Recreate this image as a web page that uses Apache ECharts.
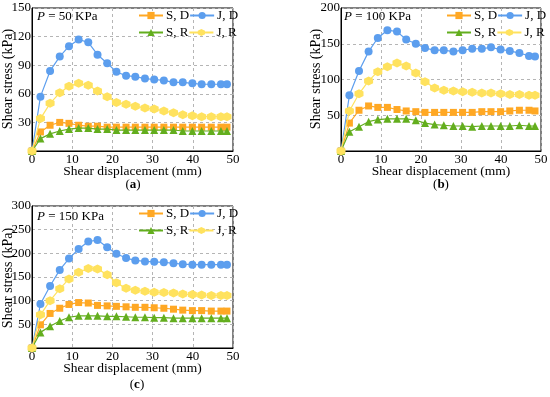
<!DOCTYPE html>
<html><head><meta charset="utf-8">
<script src="https://cdn.jsdelivr.net/npm/echarts@6/dist/echarts.min.js"></script>
<style>html,body{margin:0;padding:0;background:#fff}#c{width:550px;height:397px}</style>
</head><body><div id="c"></div>
<script>
// shear displacement (mm)
var xs = [0, 2.1, 4.5, 6.9, 9.2, 11.6, 14, 16.3, 18.7, 21, 23.4, 25.7, 28.1, 30.4, 32.8, 35.2, 37.5, 39.9, 42.2, 44.6, 47, 48.5];
var seriesNames = ['S, D', 'J, D', 'S, R', 'J, R'];
var panelLabels = ['a', 'b', 'c'];
var pressures = ['50', '100', '150'];
var yMax = [150, 200, 300];
var yStep = [30, 50, 50];
// P = 50 KPa
var a_SD = [0, 20, 27, 30, 29, 27, 26, 26, 25, 25, 25, 25, 25, 25, 25, 25, 25, 25, 25, 25, 25, 25];
var a_JD = [0, 57, 84, 99, 110, 117, 114, 101, 92, 83, 79, 78, 76, 75, 74, 72, 72, 71, 70, 70, 70, 70];
var a_SR = [0, 13, 18, 21, 23, 24, 24, 23, 23, 22, 22, 22, 22, 22, 22, 22, 21, 21, 21, 21, 21, 21];
var a_JR = [0, 34, 50, 61, 68, 71, 69, 63, 57, 51, 49, 47, 45, 44, 42, 40, 38, 37, 36, 36, 36, 36];
// P = 100 KPa
var b_SD = [0, 39, 57, 63, 61, 61, 58, 56, 55, 54, 54, 54, 54, 54, 54, 55, 55, 55, 56, 57, 57, 56];
var b_JD = [0, 78, 112, 139, 158, 169, 167, 156, 150, 144, 141, 141, 139, 141, 143, 143, 145, 142, 140, 137, 133, 132];
var b_SR = [0, 27, 34, 41, 44, 45, 45, 45, 43, 39, 37, 36, 35, 35, 34, 35, 35, 35, 35, 36, 35, 35];
var b_JR = [0, 56, 80, 98, 111, 118, 123, 119, 109, 97, 88, 85, 84, 83, 82, 81, 81, 80, 79, 79, 78, 78];
// P = 150 KPa
var c_SD = [0, 49, 73, 84, 92, 96, 95, 90, 89, 88, 87, 86, 86, 85, 84, 82, 80, 79, 79, 78, 78, 78];
var c_JD = [0, 93, 131, 165, 189, 209, 225, 228, 213, 199, 190, 185, 183, 182, 181, 179, 177, 176, 176, 176, 176, 176];
var c_SR = [0, 33, 46, 57, 65, 68, 68, 68, 67, 67, 66, 65, 65, 64, 64, 63, 63, 63, 63, 63, 63, 63];
var c_JR = [0, 70, 100, 125, 146, 160, 168, 167, 155, 138, 126, 122, 120, 118, 117, 116, 114, 113, 112, 111, 111, 111];

var panelData = [[a_SD, a_JD, a_SR, a_JR], [b_SD, b_JD, b_SR, b_JR], [c_SD, c_JD, c_SR, c_JR]];
var colors = ['#FFA824', '#5C9EEE', '#63AE1E', '#FFE25E'];
var hexagon = 'path://M0,-1L0.866,-0.5L0.866,0.5L0,1L-0.866,0.5L-0.866,-0.5Z';
var symbols = ['rect', 'circle', 'triangle', hexagon];
var symSizes = [7, 8, 8, 9];
var FONT = 'Liberation Serif';

var grids = [
  {left: 32, top: 8, width: 201, height: 143},
  {left: 341, top: 8, width: 200, height: 143},
  {left: 32, top: 206, width: 201, height: 142}
];
var yNamePos = [[8, 79], [316, 79], [8, 278]];
var panelLabelPos = [[133, 178], [441, 178], [137, 378]];
var pLabelPos = [[37, 10], [344, 10], [37, 210]];
var legendPos = [[138, 9], [446, 9], [138, 207]];

var option = {
  animation: false,
  textStyle: {fontFamily: FONT},
  grid: [], xAxis: [], yAxis: [], series: [], legend: [], title: [], graphic: []
};
grids.forEach(function (g, p) {
  option.grid.push({left: g.left, top: g.top, width: g.width, height: g.height, show: true,
    containLabel: false, outerBoundsMode: 'none',
    borderColor: '#000', borderWidth: 1, backgroundColor: 'transparent'});
  option.xAxis.push({type: 'value', gridIndex: p, min: 0, max: 50, interval: 10,
    name: 'Shear displacement (mm)', nameLocation: 'middle', nameGap: 13, nameMoveOverlap: false,
    nameTextStyle: {fontFamily: FONT, fontSize: 13.5, color: '#000', verticalAlign: 'top'},
    axisLine: {show: true, lineStyle: {color: '#000'}}, axisTick: {show: false},
    axisLabel: {fontFamily: FONT, fontSize: 13, color: '#000', margin: 2},
    splitLine: {show: true, lineStyle: {color: '#b5b5b5', type: [3, 3]}}});
  option.yAxis.push({type: 'value', gridIndex: p, min: 0, max: yMax[p], interval: yStep[p],
    axisLine: {show: true, lineStyle: {color: '#000'}}, axisTick: {show: false},
    axisLabel: {fontFamily: FONT, fontSize: 13, color: '#000', margin: 1,
      formatter: function (v) { return v === 0 ? '' : String(v); }},
    splitLine: {show: true, lineStyle: {color: '#b5b5b5', type: [3, 3]}}});
  option.graphic.push({type: 'text', x: yNamePos[p][0], y: yNamePos[p][1], rotation: Math.PI / 2,
    style: {text: 'Shear stress (kPa)', fontFamily: FONT, fontSize: 14, fill: '#000',
      textAlign: 'center', textVerticalAlign: 'middle'}});
  panelData[p].forEach(function (vals, s) {
    option.series.push({type: 'line', name: seriesNames[s], xAxisIndex: p, yAxisIndex: p,
      data: xs.map(function (x, i) { return [x, vals[i]]; }),
      symbol: symbols[s], symbolSize: symSizes[s], showAllSymbol: true,
      lineStyle: {color: colors[s], width: 1.2}, itemStyle: {color: colors[s]}, z: 2 + s});
  });
  option.legend.push({left: legendPos[p][0], top: legendPos[p][1], itemGap: 0, itemWidth: 24, itemHeight: 9,
    data: ['S, D', 'J, D'], textStyle: {fontFamily: FONT, fontSize: 13, color: '#000', padding: [0, 4, 0, -2]}, padding: 0});
  option.legend.push({left: legendPos[p][0], top: legendPos[p][1] + 17, itemGap: 0, itemWidth: 24, itemHeight: 9,
    data: ['S, R', 'J, R'], textStyle: {fontFamily: FONT, fontSize: 13, color: '#000', padding: [0, 4, 0, -2]}, padding: 0});
  option.title.push({text: '({b|' + panelLabels[p] + '})', left: panelLabelPos[p][0], top: panelLabelPos[p][1],
    textAlign: 'center', padding: 0,
    textStyle: {fontFamily: FONT, fontSize: 13, fontWeight: 'normal', color: '#000',
      rich: {b: {fontFamily: FONT, fontSize: 13, fontWeight: 'bold', color: '#000'}}}});
  option.title.push({text: '{i|P} = ' + pressures[p] + ' KPa', left: pLabelPos[p][0], top: pLabelPos[p][1], padding: 0,
    textStyle: {fontFamily: FONT, fontSize: 13, fontWeight: 'normal', color: '#000',
      rich: {i: {fontFamily: FONT, fontSize: 13, fontStyle: 'italic', color: '#000'}}}});
});
var chart = echarts.init(document.getElementById('c'));
chart.setOption(option);
</script></body></html>
